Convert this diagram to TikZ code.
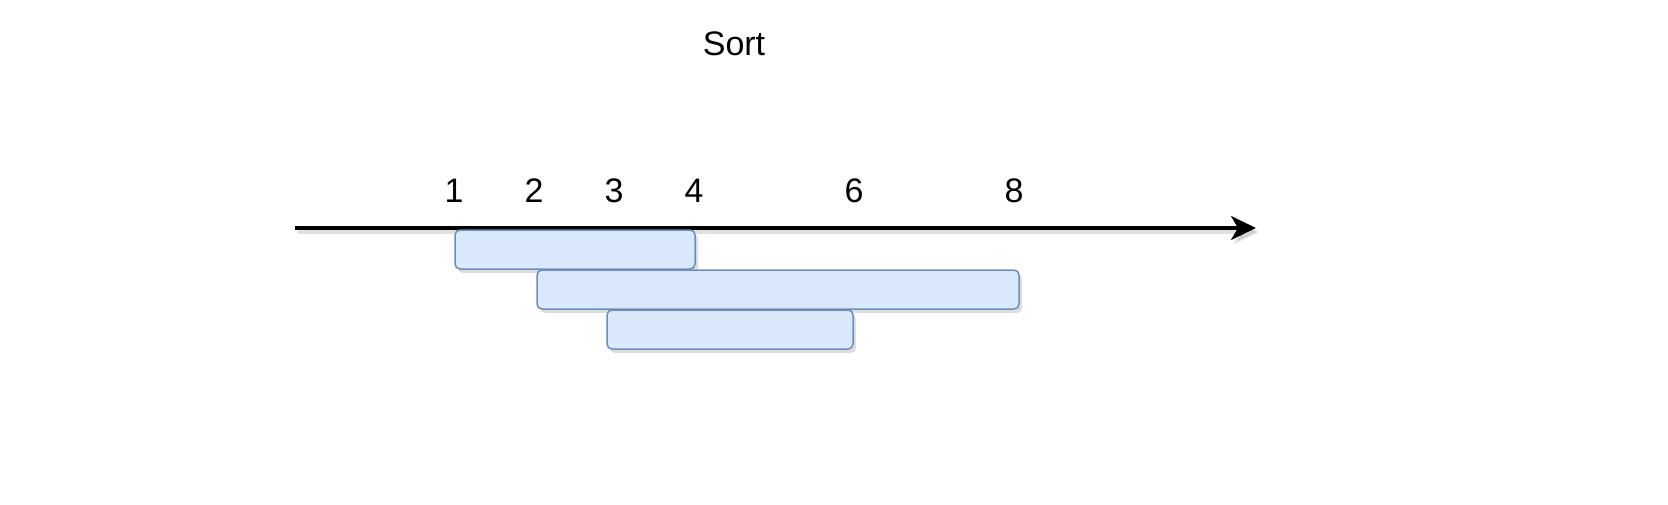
\documentclass[tikz,border=0pt]{standalone}
\usepackage{fontspec}
\setmainfont{Liberation Sans}
\usetikzlibrary{arrows.meta,shadows}
\definecolor{boxfill}{HTML}{DAE8FC}
\definecolor{boxline}{HTML}{6C8EBF}
\tikzset{
  lbl/.style={font=\fontsize{34}{40}\selectfont, text=black, inner sep=0pt, anchor=center},
  interval/.style={draw=boxline, fill=boxfill, line width=1.5pt, rounded corners=5pt,
    drop shadow={shadow xshift=3pt, shadow yshift=-4pt, opacity=0.22, fill=black!60}},
  axis/.style={line width=3.2pt, draw=black, -{Stealth[length=25pt, width=24pt, inset=7pt]}},
  axisshadow/.style={line width=3.2pt, draw=black!60, opacity=0.2, -{Stealth[length=25pt, width=24pt, inset=7pt]}}
}
\begin{document}
\begin{tikzpicture}[x=1pt, y=-1pt]
\useasboundingbox (0,0) rectangle (1668,504);
% title
\node[lbl] (title) at (734,44) {Sort};
% tick labels
\node[lbl] (n1) at (454,191) {1};
\node[lbl] (n2) at (534,191) {2};
\node[lbl] (n3) at (614,191) {3};
\node[lbl] (n4) at (694,191) {4};
\node[lbl] (n6) at (854,191) {6};
\node[lbl] (n8) at (1014,191) {8};
% axis
\coordinate (a0) at (295,228);
\coordinate (a1) at (1256,228);
\coordinate (s0) at (298,232);
\coordinate (s1) at (1259,232);
\draw[axisshadow] (s0) -- (s1);
\draw[axis] (a0) -- (a1);
% intervals
\draw[interval] (455,230) rectangle (695,269);
\draw[interval] (537,270) rectangle (1019,309);
\draw[interval] (607,310) rectangle (853,349);
\end{tikzpicture}
\end{document}
